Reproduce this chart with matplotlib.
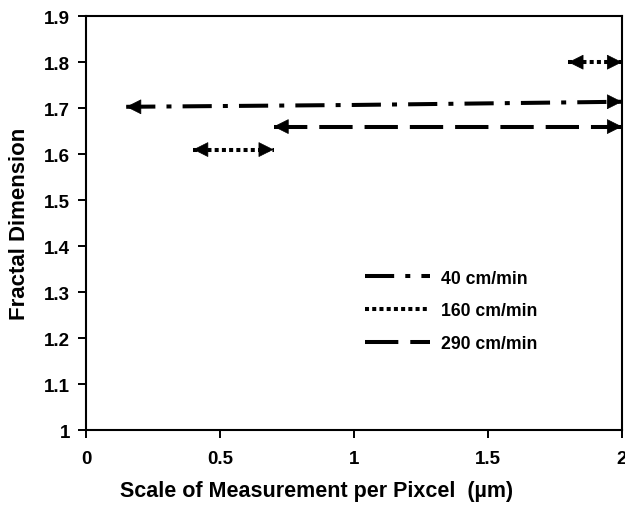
import numpy as np
import matplotlib.pyplot as plt

plt.rcParams["font.family"] = ["Liberation Sans", "DejaVu Sans"]
plt.rcParams["font.weight"] = "bold"
plt.rcParams["lines.scale_dashes"] = False

# series: (x range, fractal dimension)
x_40 = [0.15, 1.0, 2.0]
y_40 = [1.703, 1.707, 1.714]

x_160a = [0.4, 0.7]
y_160a = [1.61, 1.61]
x_160b = [1.8, 2.0]
y_160b = [1.80, 1.80]

x_290 = [0.7, 2.0]
y_290 = [1.66, 1.66]

labels = ["40 cm/min", "160 cm/min", "290 cm/min"]

xticks = [0, 0.5, 1, 1.5, 2]
xticklabels = ["0", "0.5", "1", "1.5", "2"]
yticks = [1.0, 1.1, 1.2, 1.3, 1.4, 1.5, 1.6, 1.7, 1.8, 1.9]
yticklabels = ["1", "1.1", "1.2", "1.3", "1.4", "1.5", "1.6", "1.7", "1.8", "1.9"]

lw = 2.9
style_40 = dict(color="black", lw=lw, dashes=(21, 8, 3.6, 8))
style_160 = dict(color="black", lw=lw, dashes=(2.9, 2.3))
style_290 = dict(color="black", lw=lw, dashes=(24, 8.6))


def arrow_ends(ax, xs, ys):
    # solid arrow heads at both ends of a segment
    head = "-|>,head_length=1.0,head_width=0.5"
    for (x0, y0), (x1, y1) in [((xs[1], ys[1]), (xs[0], ys[0])),
                               ((xs[-2], ys[-2]), (xs[-1], ys[-1]))]:
        d = -10.0 if x1 > x0 else 10.0
        ax.annotate("", xy=(x1, y1), xytext=(d, 0), textcoords="offset points",
                    xycoords="data",
                    arrowprops=dict(arrowstyle=head, color="black", lw=0.5,
                                    mutation_scale=10, shrinkA=0, shrinkB=0))


fig = plt.figure(figsize=(6.25, 5.06), dpi=100)
ax = fig.add_axes([0.1376, 0.148, 0.8576, 0.818])

ax.plot(x_40, y_40, label=labels[0], **style_40)
ax.plot(x_160a, y_160a, label=labels[1], **style_160)
ax.plot(x_160b, y_160b, **style_160)
ax.plot(x_290, y_290, label=labels[2], **style_290)

arrow_ends(ax, x_40, y_40)
arrow_ends(ax, x_160a, y_160a)
arrow_ends(ax, x_160b, y_160b)
arrow_ends(ax, x_290, y_290)

ax.set_xlim(0, 2)
ax.set_ylim(1.0, 1.9)
ax.set_xticks(xticks)
ax.set_xticklabels(xticklabels)
ax.set_yticks(yticks)
ax.set_yticklabels(yticklabels)
ax.tick_params(direction="out", length=5.5, width=1.4, labelsize=13.5)
ax.tick_params(axis="y", pad=6)
ax.tick_params(axis="x", pad=9)
for s in ax.spines.values():
    s.set_linewidth(1.5)

ax.set_xlabel("Scale of Measurement per Pixcel  (\u00b5m)", fontsize=15.5,
              fontweight="bold", labelpad=11)
ax.xaxis.set_label_coords(0.431, -0.12)
ax.set_ylabel("Fractal Dimension", fontsize=16, fontweight="bold", labelpad=10)

ax.legend(loc="upper left", bbox_to_anchor=(0.52, 0.388), frameon=False,
          borderpad=0, borderaxespad=0, handlelength=3.7, handletextpad=0.65,
          labelspacing=0.9, prop={"weight": "bold", "size": 12.7})

fig.savefig("out.png", dpi=100)
